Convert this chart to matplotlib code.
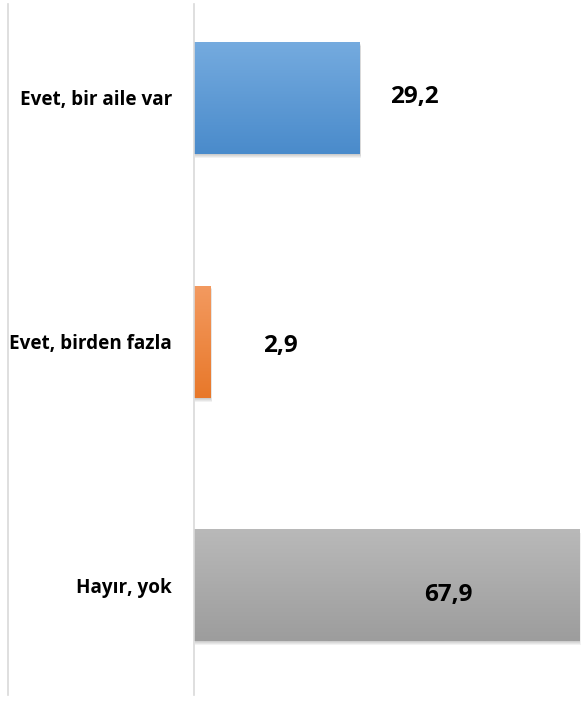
import numpy as np
import matplotlib.pyplot as plt
from matplotlib.patches import Rectangle
from matplotlib.colors import LinearSegmentedColormap
from matplotlib.lines import Line2D

# Data
categories = ['Evet, bir aile var', 'Evet, birden fazla', 'Hayır, yok']
values = [29.2, 2.9, 67.9]
value_labels = ['29,2', '2,9', '67,9']

# gradient colours (top, bottom) per bar
grad_top = ['#75ABDF', '#F39A60', '#B9B9B9']
grad_bottom = ['#4A8BCB', '#E8782A', '#9D9D9D']
# where Excel put the data labels (x centre, baseline shift from bar centre)
label_x = [38.8, 15.3, 44.8]
label_dy = [0.021, 0.043, 0.065]

plt.rcParams['font.family'] = ['Open Sans', 'DejaVu Sans']

fig = plt.figure(figsize=(5.81, 7.02), dpi=100)
# axes from x=194 to 581 px, y=4 to 695 px
ax = fig.add_axes([194 / 581, 1 - 695 / 702, (581 - 194) / 581, (695 - 4) / 702])

bar_h = 0.46
ys = np.arange(len(categories))
ax.set_xlim(0, 68.2)
ax.set_ylim(2.45, -0.385)

for y, v, top, bot in zip(ys, values, grad_top, grad_bottom):
    # soft shadow under the bar
    for k in range(4):
        sh = Rectangle((0.1, y - bar_h / 2 + 0.004 * (k + 1)), v + 0.05 * k, bar_h,
                       facecolor='#000000', alpha=0.05, edgecolor='none', zorder=1)
        ax.add_patch(sh)
    rect = Rectangle((0, y - bar_h / 2), v, bar_h, facecolor='none',
                     edgecolor='none', zorder=2)
    ax.add_patch(rect)
    cmap = LinearSegmentedColormap.from_list('g', [top, bot])
    grad = np.linspace(0, 1, 100).reshape(-1, 1)
    im = ax.imshow(grad, cmap=cmap, aspect='auto', zorder=2,
                   extent=(0, v, y + bar_h / 2, y - bar_h / 2))
    im.set_clip_path(rect)

for y, lx, dy, t in zip(ys, label_x, label_dy, value_labels):
    ax.text(lx, y + dy, t, ha='center', va='baseline', fontsize=17.5,
            fontweight='bold', color='#000000', zorder=3)

ax.set_yticks([])
ax.set_xticks([])
for s in ['top', 'right', 'bottom']:
    ax.spines[s].set_visible(False)
ax.spines['left'].set_color('#D9D9D9')
ax.spines['left'].set_linewidth(1.2)

for y, c in zip(ys, categories):
    ax.annotate(c, xy=(0, y), xycoords='data', xytext=(-16, -5.2),
                textcoords='offset points', ha='right', va='baseline',
                fontsize=13.6, fontweight='bold', color='#000000')

# left border of the chart area
fig.add_artist(Line2D([7.5 / 581, 7.5 / 581], [1 - 695 / 702, 1 - 4 / 702],
                      color='#D9D9D9', linewidth=1.2, transform=fig.transFigure))

fig.savefig('out.png', dpi=100)
